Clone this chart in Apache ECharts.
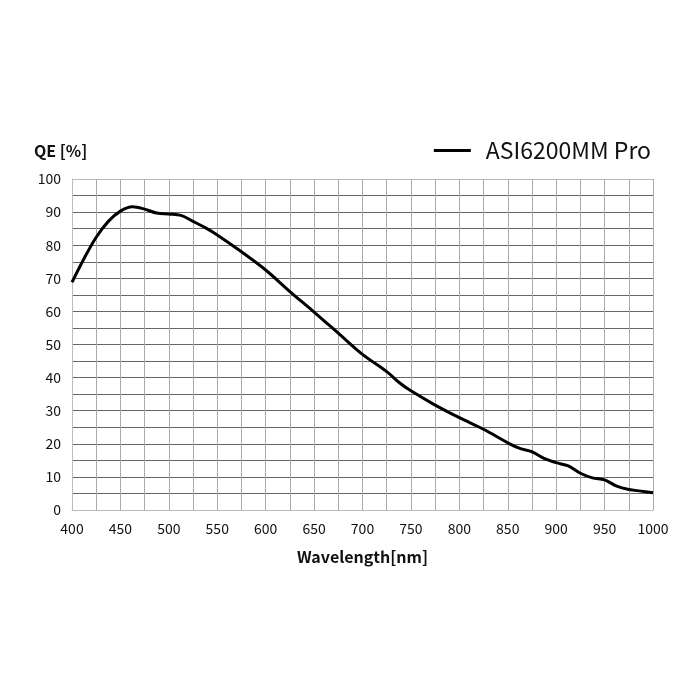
<!DOCTYPE html>
<html>
<head>
<meta charset="utf-8">
<script src="https://cdn.jsdelivr.net/npm/echarts@6/dist/echarts.min.js"></script>
<style>
  html, body { margin: 0; padding: 0; background: #fff; }
  #chart { width: 700px; height: 700px; }
</style>
</head>
<body>
<div id="chart"></div>
<script>
// wavelength (nm) and QE (%)
const wavelength = [400, 412.5, 425, 437.5, 450, 462.5, 475, 487.5, 500, 512.5, 525, 537.5, 550, 575, 600, 625, 650, 675, 700, 725, 737.5, 750, 775, 800, 825, 850, 862.5, 875, 887.5, 900, 912.5, 925, 937.5, 950, 962.5, 975, 987.5, 1000];
const qe = [68.8, 76, 82.4, 87.2, 90.3, 91.6, 90.9, 89.7, 89.4, 89.0, 87.2, 85.3, 83.1, 78, 72.5, 66, 59.8, 53.4, 47, 41.8, 38.6, 36, 31.7, 27.9, 24.4, 20.3, 18.6, 17.6, 15.6, 14.3, 13.3, 11.1, 9.7, 9.1, 7.2, 6.2, 5.7, 5.2];
const seriesName = 'ASI6200MM Pro';

const font = 'Noto Sans CJK SC';
const chart = echarts.init(document.getElementById('chart'));

// horizontal lines darker, the top one light like the frame
const hLineColors = ['#bbb'];
for (let i = 1; i < 20; i++) hLineColors.push('#666');

chart.setOption({
    animation: false,
    textStyle: { fontFamily: font },
    grid: { left: 72, right: 47, top: 179, bottom: 190 },
    legend: {
        right: 44,
        top: 134,
        icon: 'rect',
        itemWidth: 37,
        itemHeight: 3,
        itemGap: 10,
        textStyle: { fontSize: 23, color: '#111', fontFamily: font, padding: [0, 0, 0, 10] },
        data: [seriesName]
    },
    title: {
        text: 'QE [%]',
        left: 29,
        top: 138,
        textStyle: { fontSize: 16, fontWeight: 'bold', color: '#111', fontFamily: font }
    },
    xAxis: {
        type: 'value',
        min: 400,
        max: 1000,
        interval: 25,
        name: 'Wavelength[nm]',
        nameLocation: 'middle',
        nameGap: 39,
        nameTextStyle: { fontSize: 16, fontWeight: 'bold', color: '#111', fontFamily: font },
        axisLine: { lineStyle: { color: '#bbb', width: 1 } },
        axisTick: { show: false },
        axisLabel: {
            fontSize: 14,
            color: '#111',
            margin: 12,
            formatter: v => (v % 50 === 0 ? String(v) : '')
        },
        splitLine: { show: true, lineStyle: { color: '#aaa', width: 1 } }
    },
    yAxis: {
        type: 'value',
        min: 0,
        max: 100,
        interval: 5,
        axisLine: { show: true, lineStyle: { color: '#bbb', width: 1 } },
        axisTick: { show: false },
        axisLabel: {
            fontSize: 14,
            color: '#111',
            margin: 11,
            formatter: v => (v % 10 === 0 ? String(v) : '')
        },
        splitLine: { show: true, lineStyle: { color: hLineColors, width: 1 } }
    },
    series: [{
        name: seriesName,
        type: 'line',
        smooth: 0.35,
        symbol: 'none',
        data: wavelength.map((w, i) => [w, qe[i]]),
        lineStyle: { color: '#000', width: 3 },
        itemStyle: { color: '#000' }
    }]
});
</script>
</body>
</html>
